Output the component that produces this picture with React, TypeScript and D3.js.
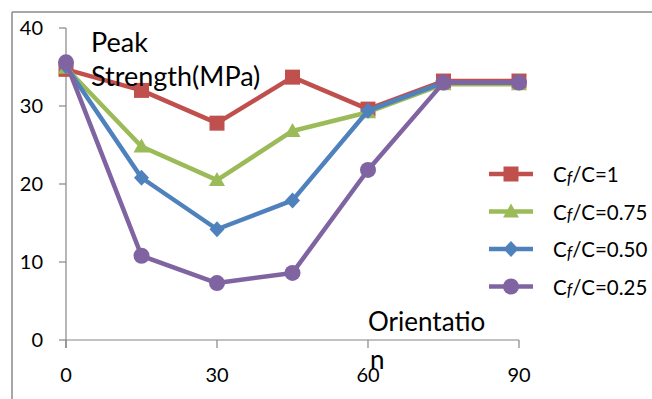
import React from "react";
import * as d3 from "d3";

const angles = [0, 15, 30, 45, 60, 75, 90];
const cf100 = [34.7, 32.0, 27.8, 33.7, 29.6, 33.2, 33.2];
const cf075 = [34.9, 24.8, 20.5, 26.8, 29.2, 32.8, 32.8];
const cf050 = [35.1, 20.8, 14.2, 17.9, 29.4, 33.0, 33.0];
const cf025 = [35.6, 10.8, 7.3, 8.6, 21.8, 33.0, 33.0];
const seriesNames = ["=1", "=0.75", "=0.50", "=0.25"];
const xTicks = [0, 30, 60, 90];
const yTicks = [0, 10, 20, 30, 40];

const colors = ["#C0504D", "#9BBB59", "#4F81BD", "#8064A2"];
const shapes = ["square", "triangle", "diamond", "circle"];
const FONT = "Lato, 'Open Sans', sans-serif";

function Marker({ shape, x, y, color }: { shape: string; x: number; y: number; color: string }) {
  if (shape === "square") return <rect x={x - 7.5} y={y - 7.5} width={15} height={15} fill={color} />;
  if (shape === "triangle")
    return <path d={`M${x},${y - 8} L${x + 8},${y + 6} L${x - 8},${y + 6} Z`} fill={color} />;
  if (shape === "diamond")
    return <path d={`M${x},${y - 8} L${x + 7.5},${y} L${x},${y + 8} L${x - 7.5},${y} Z`} fill={color} />;
  return <circle cx={x} cy={y} r={8} fill={color} />;
}

export default function App() {
  const W = 652, H = 399;
  const x = d3.scaleLinear().domain([0, 90]).range([66, 519]);
  const y = d3.scaleLinear().domain([0, 40]).range([340, 28]);
  const all = [cf100, cf075, cf050, cf025];
  const line = d3
    .line<number>()
    .x((_, i) => x(angles[i]))
    .y((d) => y(d));
  const axisColor = "#868686";
  const legendY = [174, 211.5, 249, 286.5];

  return (
    <div style={{ position: "fixed", left: 0, top: 0 }}>
      <svg width={W} height={H} style={{ display: "block", background: "#fff" }} fontFamily={FONT}>
        <rect x={0} y={0} width={W} height={H} fill="#fff" />
        <line x1={12} y1={12} x2={W} y2={12} stroke="#8a8a8a" strokeWidth={1.5} />
        <line x1={12} y1={12} x2={12} y2={H} stroke="#8a8a8a" strokeWidth={1.5} />

        {/* axes */}
        <line x1={x(0)} y1={y(40)} x2={x(0)} y2={y(0) + 8} stroke={axisColor} strokeWidth={1.2} />
        <line x1={x(0)} y1={y(0)} x2={x(90)} y2={y(0)} stroke={axisColor} strokeWidth={1.2} />
        {yTicks.map((t) => (
          <line key={"yt" + t} x1={x(0) - 7} x2={x(0)} y1={y(t)} y2={y(t)} stroke={axisColor} strokeWidth={1.2} />
        ))}
        {xTicks.map((t) => (
          <line key={"xt" + t} x1={x(t)} x2={x(t)} y1={y(0)} y2={y(0) + 8} stroke={axisColor} strokeWidth={1.2} />
        ))}

        {/* series */}
        {all.map((s, si) => (
          <g key={"s" + si}>
            <path d={line(s) || ""} fill="none" stroke={colors[si]} strokeWidth={4.5} strokeLinejoin="round" />
            {s.map((v, i) => (
              <Marker key={i} shape={shapes[si]} x={x(angles[i])} y={y(v)} color={colors[si]} />
            ))}
          </g>
        ))}

        {/* axis titles */}
        <text x={91} y={52} fontSize={27} fill="#000">Peak</text>
        <text x={91} y={86} fontSize={27} fill="#000">Strength(MPa)</text>
        <text x={368} y={331} fontSize={26} fill="#000">Orientatio</text>
        <text x={370} y={369} fontSize={26} fill="#000">n</text>

        {/* tick labels */}
        {yTicks.map((t) => (
          <text key={"yl" + t} x={43} y={y(t) + 7} fontSize={20} textAnchor="end" fill="#000">
            {t}
          </text>
        ))}
        {xTicks.map((t) => (
          <text key={"xl" + t} x={x(t)} y={382} fontSize={20} textAnchor="middle" fill="#000">
            {t}
          </text>
        ))}

        {/* legend */}
        {seriesNames.map((n, i) => (
          <g key={"lg" + i}>
            <line x1={489} x2={533} y1={legendY[i]} y2={legendY[i]} stroke={colors[i]} strokeWidth={4.5} />
            <Marker shape={shapes[i]} x={511} y={legendY[i]} color={colors[i]} />
            <text x={553} y={legendY[i] + 8} fontSize={20.5} fill="#000">
              C<tspan fontStyle="italic" fontSize={17} dy={1.5}>f</tspan>
              <tspan dy={-1.5}>/C{n}</tspan>
            </text>
          </g>
        ))}
      </svg>
    </div>
  );
}
